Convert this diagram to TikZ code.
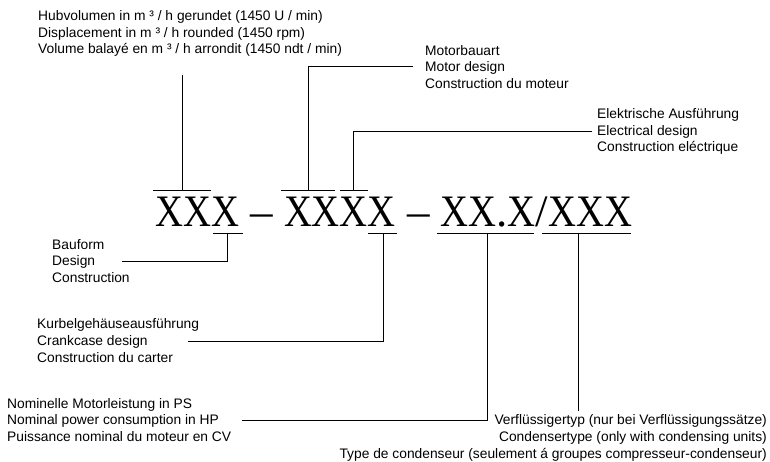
\documentclass[tikz,border=0pt]{standalone}
\usepackage{fontspec}
\usepackage{graphicx}
\setmainfont{Liberation Sans}
\newfontfamily\codefont{Liberation Serif}
\newcommand\cx{\scalebox{0.86}[1]{X}}
\tikzset{
  lbl/.style={inner sep=0pt, font=\fontsize{13.8}{16.6}\selectfont},
  lblL/.style={lbl, anchor=west, align=left},
  lblR/.style={lbl, anchor=east, align=right},
  conn/.style={line width=0.9pt, line join=miter},
  tick/.style={line width=0.9pt}
}
\begin{document}
\begin{tikzpicture}[x=1pt,y=-1pt]
\useasboundingbox (0,0) rectangle (770,462);
% code
\node[anchor=base west, inner sep=0pt, font=\codefont\fontsize{45}{45}\selectfont] (code) at (155,226.5)
  {\cx\cx\cx{} – \cx\cx\cx\cx{} – \cx\cx.\cx/\cx\cx\cx};
% labels
\node[lblL] (hub) at (38,33.5) {Hubvolumen in m ³ / h gerundet (1450 U / min)\\Displacement in m ³ / h rounded (1450 rpm)\\Volume balayé en m ³ / h arrondit (1450 ndt / min)};
\node[lblL] (mot) at (425,67) {Motorbauart\\Motor design\\Construction du moteur};
\node[lblL] (ele) at (597,131.5) {Elektrische Ausführung\\Electrical design\\Construction eléctrique};
\node[lblL] (bau) at (52,261) {Bauform\\Design\\Construction};
\node[lblL] (kur) at (37,340.5) {Kurbelgehäuseausführung\\Crankcase design\\Construction du carter};
\node[lblL] (nom) at (7,420) {Nominelle Motorleistung in PS\\Nominal power consumption in HP\\Puissance nominal du moteur en CV};
\node[lblR] (ver) at (767,438) {Verflüssigertyp (nur bei Verflüssigungssätze)\\Condensertype (only with condensing units)\\Type de condenseur (seulement á groupes compresseur-condenseur)};
% ticks
\coordinate (hubL) at (153,190); \coordinate (hubR) at (211,190); \coordinate (hubT) at (182,190);
\coordinate (motL) at (281,190); \coordinate (motR) at (335,190); \coordinate (motT) at (308,190);
\coordinate (eleL) at (340,190); \coordinate (eleR) at (368,190); \coordinate (eleT) at (353,190);
\coordinate (bauL) at (213,233); \coordinate (bauR) at (243,233); \coordinate (bauT) at (227,233);
\coordinate (kurL) at (368,233); \coordinate (kurR) at (397,233); \coordinate (kurT) at (383,233);
\coordinate (nomL) at (437,233); \coordinate (nomR) at (534,233); \coordinate (nomT) at (487,233);
\coordinate (verL) at (542,233); \coordinate (verR) at (631,233); \coordinate (verT) at (578,233);
\foreach \n in {hub,mot,ele,bau,kur,nom,ver} \draw[tick] (\n L) -- (\n R);
% connector ends
\coordinate (hubE) at (182,75);
\coordinate (motE) at (413,66);
\coordinate (eleE) at (592,131);
\coordinate (bauE) at (122,261);
\coordinate (kurE) at (188,341);
\coordinate (nomE) at (242,420);
\coordinate (verE) at (578,411);
\draw[conn] (hubT) -- (hubE);
\draw[conn] (motT) |- (motE);
\draw[conn] (eleT) |- (eleE);
\draw[conn] (bauT) |- (bauE);
\draw[conn] (kurT) |- (kurE);
\draw[conn] (nomT) |- (nomE);
\draw[conn] (verT) -- (verE);
\end{tikzpicture}
\end{document}
